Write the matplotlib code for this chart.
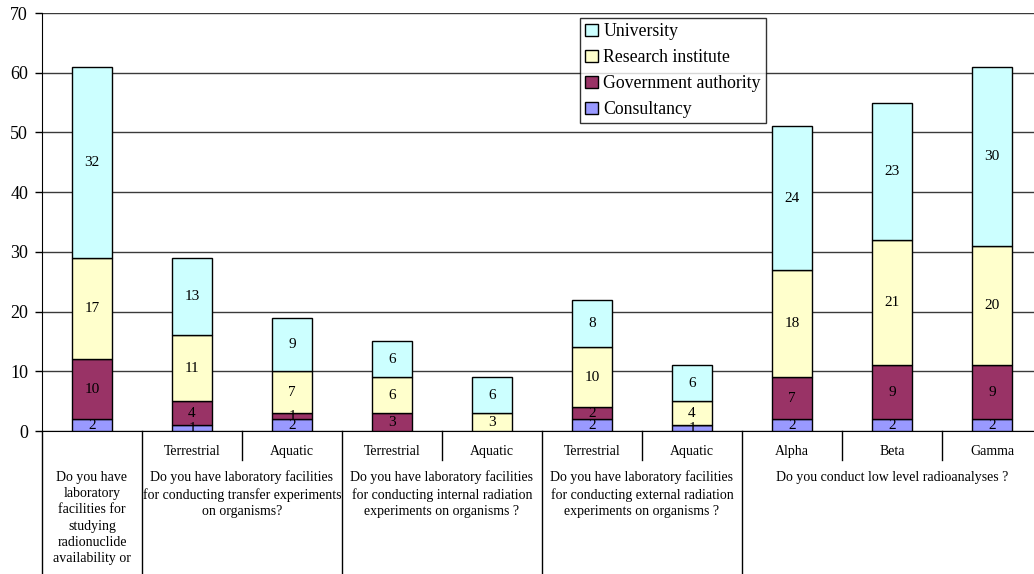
import matplotlib
matplotlib.use("Agg")
import matplotlib.pyplot as plt
import matplotlib.transforms as mtransforms
import numpy as np

plt.rcParams['font.family'] = ['Liberation Serif', 'DejaVu Serif']

# one bar per sub-question
sub_labels = ["", "Terrestrial", "Aquatic", "Terrestrial", "Aquatic",
              "Terrestrial", "Aquatic", "Alpha", "Beta", "Gamma"]
consultancy = [2, 1, 2, 0, 0, 2, 1, 2, 2, 2]
government = [10, 4, 1, 3, 0, 2, 0, 7, 9, 9]
research = [17, 11, 7, 6, 3, 10, 4, 18, 21, 20]
university = [32, 13, 9, 6, 6, 8, 6, 24, 23, 30]

# question groups: (first bar, last bar, text)
groups = [
    (0, 0, "Do you have\nlaboratory\nfacilities for\nstudying\nradionuclide\navailability or"),
    (1, 2, "Do you have laboratory facilities\nfor conducting transfer experiments\non organisms?"),
    (3, 4, "Do you have laboratory facilities\nfor conducting internal radiation\nexperiments on organisms ?"),
    (5, 6, "Do you have laboratory facilities\nfor conducting external radiation\nexperiments on organisms ?"),
    (7, 9, "Do you conduct low level radioanalyses ?"),
]

series = [
    ("Consultancy", consultancy, "#9999FF"),
    ("Government authority", government, "#993366"),
    ("Research institute", research, "#FFFFCC"),
    ("University", university, "#CCFFFF"),
]

fig = plt.figure(figsize=(10.34, 5.74), dpi=100)
ax = fig.add_axes([42 / 1034, 143 / 574, 1000 / 1034, 418 / 574])

x = np.arange(len(sub_labels))
bottom = np.zeros(len(x))
handles = {}
for name, vals, col in series:
    vals = np.array(vals, dtype=float)
    b = ax.bar(x, vals, 0.4, bottom=bottom, color=col, edgecolor="black",
               linewidth=1.0, zorder=3)
    handles[name] = b
    for xi, v, bt in zip(x, vals, bottom):
        if v > 0:
            ax.text(xi, bt + v / 2, "%d" % v, ha="center", va="center",
                    fontsize=11, zorder=4)
    bottom += vals

ax.set_xlim(-0.5, 9.5)
ax.set_ylim(0, 70)
ax.set_yticks(range(0, 71, 10))
ax.yaxis.grid(True, color="#3a3a3a", linewidth=1.0, zorder=0)
ax.set_axisbelow(True)
ax.spines["top"].set_visible(False)
ax.spines["right"].set_visible(False)
ax.spines["left"].set_color("black")
ax.spines["bottom"].set_color("black")
ax.tick_params(axis="y", length=5, width=1, pad=5, labelsize=13)
ax.tick_params(axis="x", length=0, labelbottom=False)

# category axis drawn by hand below the plot
trans = mtransforms.blended_transform_factory(ax.transData, ax.transAxes)
group_edges = set()
for g0, g1, txt in groups:
    group_edges.add(g0 - 0.5)
    group_edges.add(g1 + 0.5)
for i in range(len(x) + 1):
    edge = i - 0.5
    y_end = -0.35 if edge in group_edges else -0.069
    ax.plot([edge, edge], [0, y_end], color="black", linewidth=1.0,
            transform=trans, clip_on=False)

for xi, lab in zip(x, sub_labels):
    if lab:
        ax.text(xi, -0.048, lab, ha="center", va="center", fontsize=10,
                transform=trans)

for g0, g1, txt in groups:
    ax.text((g0 + g1) / 2, -0.095, txt, ha="center", va="top", fontsize=10,
            linespacing=1.33, transform=trans)

order = ["University", "Research institute", "Government authority", "Consultancy"]
leg = ax.legend([handles[n] for n in order], order, loc="upper left",
                bbox_to_anchor=(580 / 1034, 1 - 18 / 574),
                bbox_transform=fig.transFigure, fontsize=12.8, frameon=True,
                fancybox=False, handlelength=0.7, handleheight=0.7,
                handletextpad=0.3, labelspacing=0.5, borderpad=0.3,
                borderaxespad=0)
leg.get_frame().set_edgecolor("black")
leg.get_frame().set_linewidth(1.0)

fig.savefig("out.png", dpi=100)
